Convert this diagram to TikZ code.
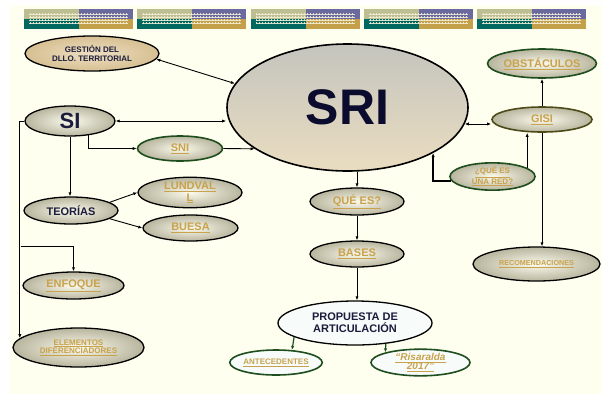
\documentclass[tikz,border=0pt]{standalone}
\usepackage{fontspec}
\setmainfont{Liberation Sans}
\usetikzlibrary{shapes.geometric,arrows.meta}
\definecolor{crema}{HTML}{FFFFF0}
\definecolor{oro}{HTML}{C8A24C}
\definecolor{tinta}{HTML}{1C1C3C}
\definecolor{tintasri}{HTML}{0B0B2D}
\definecolor{verde}{HTML}{1E4D1E}
\definecolor{oliva}{HTML}{4D4A1A}
\definecolor{bandaA}{HTML}{BDBE92}
\definecolor{bandaB}{HTML}{6B6A9E}
\definecolor{bandaC}{HTML}{00685F}
\definecolor{bandaD}{HTML}{C4A04A}
\definecolor{rejcol}{HTML}{F2EFD8}
\definecolor{luz}{HTML}{FBFAEC}
\definecolor{sombra}{HTML}{B8B59E}
\definecolor{gestA}{HTML}{EEDFC2}
\definecolor{gestB}{HTML}{D6BF92}
\definecolor{sriA}{HTML}{C4C4BE}
\definecolor{sriB}{HTML}{EADDC0}
\definecolor{blanco}{HTML}{F7FCFB}
\newcommand{\lnk}[1]{\underline{#1}}
\newcommand{\tam}[2]{\fontsize{#1}{#2}\selectfont}
\tikzset{
  base/.style={ellipse, draw=black, line width=1.3pt, inner sep=0pt},
  blob/.style={base, inner color=luz, outer color=sombra},
  blobverde/.style={blob, draw=verde, line width=1.6pt},
  claro/.style={base, fill=blanco},
  claroverde/.style={claro, draw=verde, line width=1.6pt},
  enlace/.style={text=oro, font=\bfseries\tam{11}{12}},
  oscuro/.style={text=tinta, font=\bfseries\tam{11}{12}},
  arr/.style={-{Latex[length=4pt,width=3.2pt]}, line width=0.9pt},
  dblarr/.style={{Latex[length=4pt,width=3.2pt]}-{Latex[length=4pt,width=3.2pt]}, line width=0.9pt},
  arrverde/.style={arr, draw=verde, line width=1.2pt},
  rejilla/.style={draw=rejcol, line width=0.7pt, opacity=0.85},
}
\begin{document}
\begin{tikzpicture}[x=1pt,y=-1pt]
\useasboundingbox (0,0) rectangle (602,394);
\fill[crema] (10,5) rectangle (602,394);
% banda superior
\foreach \bx in {24,137.3,250.6,363.9,477.2} {
  \fill[bandaA] (\bx,9) rectangle ++(55,10);
  \fill[bandaB] (\bx+55,9) rectangle ++(54,10);
  \fill[bandaC] (\bx,19) rectangle ++(55,10);
  \fill[bandaD] (\bx+55,19) rectangle ++(54,10);
  \foreach \gy in {14,17,20,23} \draw[rejilla] (\bx+5,\gy) -- ++(99,0);
  \foreach \gx in {0,3,...,96} \draw[rejilla, dash pattern=on 1.5pt off 1.5pt] (\bx+6+\gx,13) -- ++(0,12);
}
% nodos
\node[base, line width=1.6pt, minimum width=241pt, minimum height=127pt, top color=sriA, bottom color=sriB, text=tintasri, font=\bfseries\tam{50}{50}] (sri) at (347.5,107.5) {SRI};
\node[base, minimum width=134pt, minimum height=35pt, inner color=gestA, outer color=gestB, text=tinta, font=\bfseries\tam{8}{9}, align=center] (ges) at (92,53.5) {GESTIÓN DEL\\DLLO. TERRITORIAL};
\node[blob, minimum width=90pt, minimum height=30pt, text=tinta, font=\bfseries\tam{22}{22}] (si) at (70,121) {SI};
\node[blobverde, minimum width=85pt, minimum height=25pt, enlace] (sni) at (180,148.5) {\lnk{SNI}};
\node[blob, minimum width=94pt, minimum height=27pt, oscuro] (teo) at (71,210.5) {TEORÍAS};
\node[blob, minimum width=104pt, minimum height=29pt, enlace, align=center] (lun) at (190,192.5) {\lnk{LUNDVAL}\\\lnk{L}};
\node[blob, minimum width=95pt, minimum height=26pt, enlace] (bue) at (190.5,228) {\lnk{BUESA}};
\node[blob, minimum width=101pt, minimum height=27pt, enlace] (enf) at (73.5,285.5) {\lnk{ENFOQUE}};
\node[blob, minimum width=131pt, minimum height=39pt, enlace, font=\bfseries\tam{8}{8.5}, align=center] (el) at (78.5,347.5) {\lnk{ELEMENTOS}\\\lnk{DIFERENCIADORES}};
\node[blob, minimum width=94pt, minimum height=27pt, enlace] (que) at (357,201.5) {\lnk{QUÉ ES?}};
\node[blob, minimum width=94pt, minimum height=26pt, enlace] (bas) at (357,254) {\lnk{BASES}};
\node[claro, minimum width=154pt, minimum height=44pt, oscuro, align=center] (prop) at (355,323) {PROPUESTA DE\\ARTICULACIÓN};
\node[claroverde, minimum width=80pt, minimum height=25pt, enlace, font=\bfseries\tam{8}{9}] (ant) at (276,362.5) {\lnk{ANTECEDENTES}};
\node[claroverde, minimum width=99pt, minimum height=25pt, enlace, font=\bfseries\itshape\tam{10}{9.5}, align=center] (ris) at (420.5,362.5) {\lnk{“Risaralda}\\\lnk{2017”}};
\node[blobverde, minimum width=99pt, minimum height=29pt, enlace] (obs) at (542,63.5) {\lnk{OBSTÁCULOS}};
\node[blob, draw=oliva, line width=1.6pt, minimum width=100pt, minimum height=25pt, enlace] (gisi) at (542,119.5) {\lnk{GISI}};
\node[blobverde, minimum width=85pt, minimum height=25pt, enlace, font=\bfseries\tam{8}{8}, align=center] (red) at (492.5,176.5) {\lnk{¿QUÉ ES}\\\lnk{UNA RED?}};
\node[blob, minimum width=127pt, minimum height=34pt, enlace, font=\bfseries\tam{7.2}{8}] (rec) at (536.5,264) {\lnk{RECOMENDACIONES}};
% conectores
\draw[dblarr] (ges.-5) -- (sri.168);
\draw[dblarr] (si.east) -- (si.east -| sri.west);
\draw[arr] ([xshift=18pt,yshift=2pt]si.south) |- (sni.west);
\draw[arr] (sni.east) -- (sri.204);
\draw[arr] (si.south) -- (si.south |- teo.north);
\draw[arr] (si.west) -| (el.171);
\coordinate (rama) at (20.6,246);
\draw[arr] (rama) -| (enf.north);
\draw[arr] (teo.12) -- (lun.west);
\draw[arr] (teo.-12) -- (bue.west);
\draw[arr] (que.north |- sri.south) -- (que.north);
\draw[arr] (que.south) -- (bas.north);
\draw[arr] (bas.south) -- (bas.south |- prop.north);
\draw[arrverde] (prop.193) -- (ant.38);
\draw[arrverde] (prop.-34) -- (ris.164);
\draw[dblarr] (sri.-8) -- (sri.-8 -| gisi.west);
\draw[arr] (gisi.north) -- (obs.south);
\draw[arr] (gisi.south) -- (gisi.south |- rec.north);
\draw[arr] (red.14) -- (red.14 |- gisi.south);
\draw[arr, line width=1.5pt] (red.186) -| (sri.-28);
\end{tikzpicture}
\end{document}
